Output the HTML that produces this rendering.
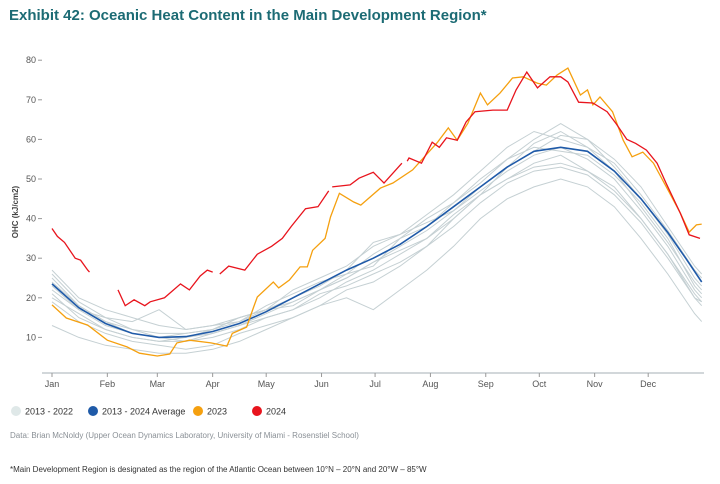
<!DOCTYPE html>
<html><head><meta charset="utf-8"><style>
body{margin:0;background:#fff;font-family:"Liberation Sans",sans-serif;}
#wrap{position:relative;width:720px;height:484px;overflow:hidden;}
.title{position:absolute;left:9px;top:7px;font-size:15px;font-weight:bold;color:#1c6b74;}
.src{position:absolute;left:10px;top:431px;font-size:8px;color:#8a9096;}
.foot{position:absolute;left:10px;top:465px;font-size:8px;color:#333;}
</style></head><body>
<div id="wrap">
<div class="title">Exhibit 42: Oceanic Heat Content in the Main Development Region*</div>
<svg id="chart" width="720" height="484" style="position:absolute;left:0;top:0"></svg>
<div class="src">Data: Brian McNoldy (Upper Ocean Dynamics Laboratory, University of Miami - Rosenstiel School)</div>
<div class="foot">*Main Development Region is designated as the region of the Atlantic Ocean between 10°N – 20°N and 20°W – 85°W</div>
</div>
<script>
const monthLabels=["Jan","Feb","Mar","Apr","May","Jun","Jul","Aug","Sep","Oct","Nov","Dec"];
const monthDays=[0,31,59,90,120,151,181,212,243,273,304,334];
const yTicks=[10,20,30,40,50,60,70,80];
const grayDays=[0,15,30,45,60,75,90,105,120,135,150,165,180,195,210,225,240,255,270,285,300,315,330,345,360,364];
const gray1=[26,19,15,12,11,11,12,15,17,22,25,28,33,36,41,46,52,58,62,60,58,54,46,37,27,25];
const gray2=[25,18,14,11,10,10,12,14,18,21,24,26,28,35,40,44,49,55,60,64,60,53,45,36,25,23];
const gray3=[20,16,12,10,9,10,11,13,16,19,22,25,29,33,37,42,47,52,56,58,55,50,42,33,22,20];
const gray4=[22,17,13,11,10,9,11,13,15,17,20,24,27,31,35,40,46,50,54,56,52,48,40,31,20,18];
const gray5=[27,20,17,15,13,12,13,15,17,18,22,26,31,35,38,44,50,55,58,57,56,51,44,35,23,21];
const gray6=[13,10,8,7,6,6,7,9,12,15,18,20,17,22,27,33,40,45,48,50,48,43,35,26,16,14];
const gray7=[24,18,14,12,10,11,12,15,17,20,23,27,34,36,39,42,48,53,57,61,60,55,48,38,28,26];
const gray8=[21,15,12,10,9,9,10,12,15,17,21,23,26,29,33,40,46,50,53,54,52,47,40,31,21,19];
const gray9=[23,17,15,14,17,12,13,14,17,19,22,25,29,32,35,41,46,53,59,62,58,52,43,34,24,22];
const gray10=[19,14,11,9,8,7,8,11,13,15,18,22,24,28,33,38,44,49,52,53,51,46,39,30,20,19];
const avgDays=[0,15,30,45,60,75,90,105,120,135,150,165,180,195,210,225,240,255,270,285,300,315,330,345,355,364];
const avgVals=[23.5,17.5,13.5,11,10,10.2,11.5,13.5,16.5,20,23.5,27,30,33.5,38,43,48,53,57,58,57,52,45,36.5,30,24];
const y2023Days=[0,8,20,31,42,49,59,66,70,77,89,98,101,109,113,115,124,127,133,139,143,146,153,156,161,169,173,184,191,202,216,222,227,233,240,244,251,258,264,272,277,283,289,296,300,303,307,314,320,325,331,337,346,352,357,361,364];
const y2023Vals=[18.2,14.9,13.1,9.3,7.6,6,5.3,5.8,8.6,9.3,8.6,7.8,11,12.6,17.7,20.2,24,22.5,24.5,27.8,27.8,32,35,40.4,46.4,44.2,43.4,47.7,49,52.3,59.3,62.9,59.8,64.1,71.7,68.7,71.7,75.5,75.8,74.2,73.7,76.3,78,71.2,72.5,68.7,70.7,67,59.8,55.6,56.8,54,46.5,41.4,36.6,38.4,38.6];
const y2024Days=[0,3,7,13,16,20,21,null,37,41,46,52,55,63,72,77,83,87,90,null,94,99,108,115,123,129,134,142,149,155,null,157,167,172,180,186,196,null,199,200,207,213,217,221,227,232,237,247,255,260,266,272,279,285,289,295,303,311,316,322,327,333,339,344,352,357,363];
const y2024Vals=[37.5,35.5,34,30,29.5,27,26.5,null,22,18,19.5,18,19,20,23.5,22,25.5,27,26.5,null,26,28,27,31,33,35,38,42.5,43,47,null,48,48.5,50.2,51.7,49,54,null,54.5,55.3,54,59.3,58,60.4,59.8,64.4,67,67.4,67.4,72.5,77,73,75.8,75.8,74.5,69.4,69.2,67,64,60,59,57.3,54,49,41.4,35.9,35];

const svg=document.getElementById('chart');
const NS='http://www.w3.org/2000/svg';
const xS=d=>52+d*1.785;
const yS=v=>377-v*3.96;
function mk(tag,attrs,parent){const e=document.createElementNS(NS,tag);for(const k in attrs)e.setAttribute(k,attrs[k]);(parent||svg).appendChild(e);return e;}
yTicks.forEach(t=>{
  const g=mk('g',{});
  
  
  mk('line',{x1:38,x2:42,y1:yS(t),y2:yS(t),stroke:'#999','stroke-width':1},g);
  const tx=mk('text',{x:36,y:yS(t)+3,'text-anchor':'end','font-size':'9','fill':'#555','font-family':'Liberation Sans, sans-serif'},g);
  tx.textContent=t;
});
const yt=mk('text',{x:0,y:0,transform:'translate(18,212) rotate(-90)','text-anchor':'middle','font-size':'8','font-weight':'bold','fill':'#444','font-family':'Liberation Sans, sans-serif'});


yt.textContent='OHC  (kJ/cm2)';
const xa=mk('line',{x1:42,x2:704,y1:373,y2:373,stroke:'#b8bfc4','stroke-width':1.2});


monthLabels.forEach((m,i)=>{
  const g=mk('g',{});
  
  
  const x=xS(monthDays[i]);
  mk('line',{x1:x,x2:x,y1:373,y2:377,stroke:'#999','stroke-width':1},g);
  const tx=mk('text',{x:x,y:387,'text-anchor':'middle','font-size':'9','fill':'#555','font-family':'Liberation Sans, sans-serif'},g);
  tx.textContent=m;
});
function path(days,vals){let d='',pen=false;for(let i=0;i<days.length;i++){if(days[i]===null||vals[i]===null||vals[i]===undefined){pen=false;continue;}d+=(pen?'L':'M')+xS(days[i]).toFixed(1)+','+yS(vals[i]).toFixed(1);pen=true;}return d;}
const grays=[gray1,gray2,gray3,gray4,gray5,gray6,gray7,gray8,gray9,gray10];
grays.forEach((g,i)=>{
  const p=mk('path',{d:path(grayDays,g),fill:'none',stroke:'#c5d0d3','stroke-width':1});
  
  
});
const pa=mk('path',{d:path(avgDays,avgVals),fill:'none',stroke:'#1f5aa8','stroke-width':1.6});


const p23=mk('path',{d:path(y2023Days,y2023Vals),fill:'none',stroke:'#f5a00f','stroke-width':1.3});


const p24=mk('path',{d:path(y2024Days,y2024Vals),fill:'none',stroke:'#e8141d','stroke-width':1.3});


const legendLabels=["2013 - 2022","2013 - 2024 Average","2023","2024"];
const legendColors=["#dfe8e8","#1f5aa8","#f5a00f","#e8141d"];
const legendX=[16,93,198,257];
legendLabels.forEach((l,i)=>{
  const g=mk('g',{});
  
  
  mk('circle',{cx:legendX[i],cy:411,r:5,fill:legendColors[i]},g);
  const tx=mk('text',{x:legendX[i]+9,y:414.5,'font-size':'9','fill':'#333','font-family':'Liberation Sans, sans-serif'},g);
  tx.textContent=l;
});
</script>
</body></html>
